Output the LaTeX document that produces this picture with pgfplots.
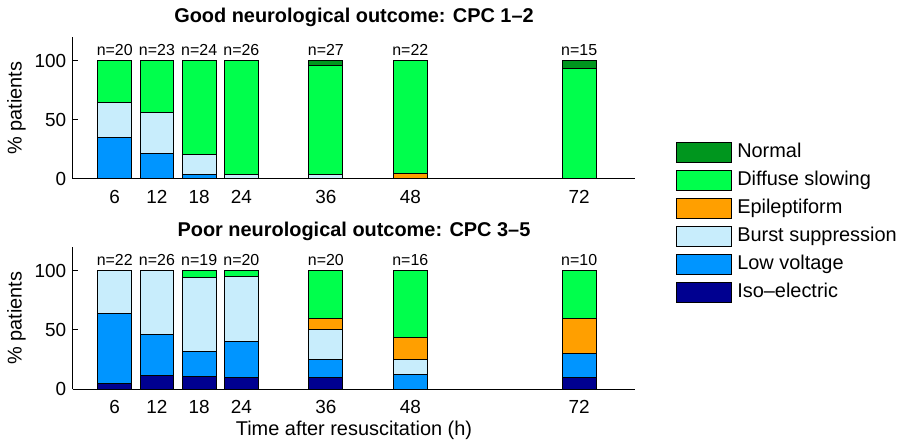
\documentclass[border=0pt]{standalone}
\usepackage{fontspec}
\setmainfont{Liberation Sans}
\usepackage{pgfplots}
\usepackage{pgfplotstable}
\pgfplotsset{compat=1.18}
\definecolor{cNor}{RGB}{0,150,30}
\definecolor{cDS}{RGB}{0,255,76}
\definecolor{cEpi}{RGB}{255,159,0}
\definecolor{cBS}{RGB}{200,237,252}
\definecolor{cLV}{RGB}{0,149,255}
\definecolor{cIso}{RGB}{0,0,144}

% Good outcome (CPC 1-2), percentages
\pgfplotstableread{
x  iso  lv     bs     epi   ds     nor   top n
6  0    35     30     0     35     0     100 n=20
12 0    21.74  34.78  0     43.48  0     100 n=23
18 0    4.17   16.67  0     79.16  0     100 n=24
24 0    0      3.85   0     96.15  0     100 n=26
36 0    0      3.70   0     92.60  3.70  100 n=27
48 0    0      0      4.55  95.45  0     100 n=22
72 0    0      0      0     93.33  6.67  100 n=15
}\good

% Poor outcome (CPC 3-5), percentages
\pgfplotstableread{
x  iso    lv     bs     epi    ds     nor top n
6  4.55   59.09  36.36  0      0      0   100 n=22
12 11.54  34.62  53.84  0      0      0   100 n=26
18 10.53  21.05  63.16  0      5.26   0   100 n=19
24 10     30     55     0      5      0   100 n=20
36 10     15     25     10     40     0   100 n=20
48 0      12.5   12.5   18.75  56.25  0   100 n=16
72 10     20     0      30     40     0   100 n=10
}\poor

\pgfplotsset{
  eegframe/.style={
    width=281.5bp, height=70.8bp, scale only axis,
    xmin=0, xmax=80, ymin=0, ymax=120,
  },
  eegaxis/.style={
    eegframe,
    ybar stacked, bar width=4.8,
    axis x line*=bottom, axis y line*=left,
    axis line style={line width=0.5bp, black},
    xtick={6,12,18,24,36,48,72}, ytick={0,50,100},
    tick align=inside, major tick length=2.5bp,
    tick style={black, line width=0.5bp},
    x tick style={draw=none},
    /pgf/number format/assume math mode=true,
    ticklabel style={font=\fontsize{9.5}{11}\selectfont},
    xticklabel style={anchor=base, inner sep=0pt, yshift=-12.15bp},
    yticklabel style={anchor=east, inner sep=0pt, xshift=-3bp},
    ylabel={\% patients},
    every axis y label/.style={at={(axis description cs:-0.0995,0.5)}, anchor=center, rotate=90, font=\fontsize{10}{12}\selectfont},
    every axis title/.style={at={(axis description cs:0.5,1)}, anchor=base, font=\bfseries\fontsize{10}{12}\selectfont},
    clip=false,
  },
  seg/.style={fill=#1, draw=black, line width=0.5bp,
    legend image code/.code={\draw[fill=#1, draw=black, line width=0.5bp] (0bp,-5bp) rectangle (27.5bp,5bp);}},
  nlab/.style={draw=none, mark=none, nodes near coords, point meta=explicit symbolic,
    every node near coord/.append style={anchor=south, inner sep=0pt, yshift=2.7bp, font=\fontsize{8}{9.6}\selectfont}},
}

\begin{document}
\begin{tikzpicture}
% ---------- top: good outcome ----------
\begin{axis}[eegaxis, at={(0,105bp)}, title={Good neurological outcome: CPC 1\textendash 2},
  title style={yshift=7.35bp}]
\addplot[seg=cIso] table[x=x,y=iso]{\good};
\addplot[seg=cLV]  table[x=x,y=lv]{\good};
\addplot[seg=cBS]  table[x=x,y=bs]{\good};
\addplot[seg=cEpi] table[x=x,y=epi]{\good};
\addplot[seg=cDS]  table[x=x,y=ds]{\good};
\addplot[seg=cNor] table[x=x,y=nor]{\good};
\end{axis}
\begin{axis}[eegframe, at={(0,105bp)}, hide axis, clip=false]
\addplot[nlab] table[x=x,y=top,meta=n]{\good};
\end{axis}
% ---------- bottom: poor outcome ----------
\begin{axis}[eegaxis, name=bot, title={Poor neurological outcome: CPC 3\textendash 5},
  title style={yshift=5.55bp},
  xlabel={Time after resuscitation (h)},
  every axis x label/.style={at={(axis description cs:0.5,-0.29)}, anchor=center, font=\fontsize{10}{12}\selectfont},
  reverse legend,
  legend cell align=left,
  legend style={at={(1.0714,1.744)}, anchor=north west, draw=none, fill=none,
    inner sep=0pt, outer sep=0pt, row sep=3.5bp, column sep=2.8bp,
    font=\fontsize{10}{12}\selectfont,
    nodes={inner sep=0pt, text height=7.2bp, text depth=2.1bp}},
  ]
\addplot[seg=cIso] table[x=x,y=iso]{\poor};
\addlegendentry{Iso\textendash electric}
\addplot[seg=cLV]  table[x=x,y=lv]{\poor};
\addlegendentry{Low voltage}
\addplot[seg=cBS]  table[x=x,y=bs]{\poor};
\addlegendentry{Burst suppression}
\addplot[seg=cEpi] table[x=x,y=epi]{\poor};
\addlegendentry{Epileptiform}
\addplot[seg=cDS]  table[x=x,y=ds]{\poor};
\addlegendentry{Diffuse slowing}
\addplot[seg=cNor] table[x=x,y=nor]{\poor};
\addlegendentry{Normal}
\end{axis}
\begin{axis}[eegframe, hide axis, clip=false]
\addplot[nlab] table[x=x,y=top,meta=n]{\poor};
\end{axis}
\pgfresetboundingbox
\path[use as bounding box] (bot.south west) ++(-36.25bp,-26bp) rectangle ++(449bp,220.5bp);
\end{tikzpicture}
\end{document}
